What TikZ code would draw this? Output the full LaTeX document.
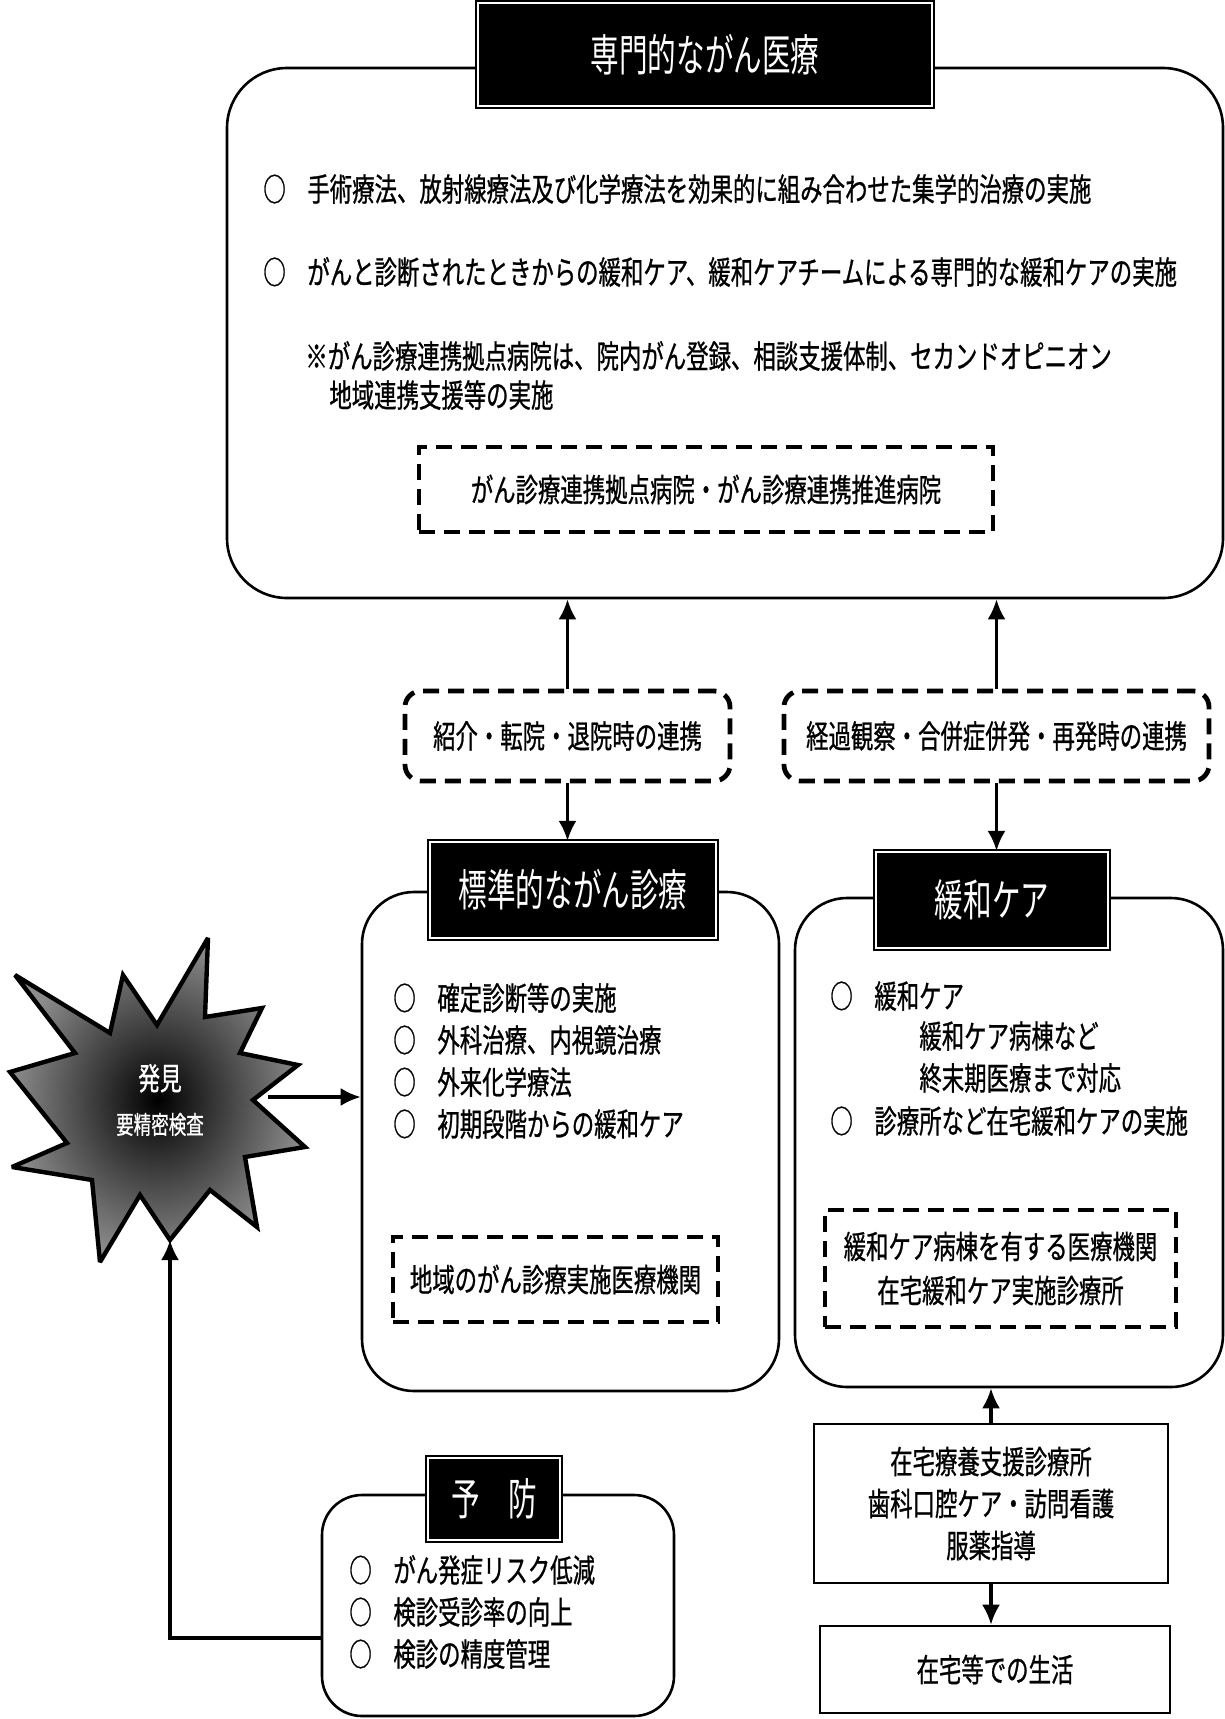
\documentclass[tikz,border=0pt]{standalone}
\usepackage{fontspec}
\usetikzlibrary{arrows.meta}
\newfontfamily\jpfont[FakeStretch=0.70,FakeBold=0.8]{Noto Sans CJK JP}
\newfontfamily\jphead[FakeStretch=0.65]{Noto Sans CJK JP}
\newcommand{\maru}{\makebox[22pt][l]{○}}
\begin{document}
\begin{tikzpicture}[x=0.5pt,y=-0.5pt,
  txt/.style={font=\jpfont\fontsize{16}{20}\selectfont, inner sep=0pt, anchor=west},
  headbox/.style={fill=black, draw=black, double=white, double distance=0.6pt,
    line width=1.1pt, inner sep=0pt, text=white,
    font=\jphead\fontsize{22}{26}\selectfont},
  panel/.style={draw=black, line width=1.3pt, fill=white, inner sep=0pt},
  dashbox/.style={draw=black, line width=2.4pt, dash pattern=on 8pt off 4.5pt,
    inner sep=0pt, font=\jpfont\fontsize{16}{22}\selectfont, align=center},
  plainbox/.style={draw=black, line width=1.3pt, inner sep=0pt,
    font=\jpfont\fontsize{16}{21}\selectfont, align=center},
  link/.style={line width=1.6pt, -{Latex[length=10pt,width=9pt]}},
]
\useasboundingbox (0,0) rectangle (1225,1719);
\fill[white] (0,0) rectangle (1225,1719);

% ---------- specialised cancer care ----------
\node[panel, rounded corners=30pt, minimum width=498pt, minimum height=265pt]
  (big) at (725,333) {};
\node[headbox, minimum width=227pt, minimum height=51.5pt]
  (head1) at (705,54.5) {専門的ながん医療};
\node[txt] (b1) at (263,189) {\maru 手術療法、放射線療法及び化学療法を効果的に組み合わせた集学的治療の実施};
\node[txt] (b2) at (263,272) {\maru がんと診断されたときからの緩和ケア、緩和ケアチームによる専門的な緩和ケアの実施};
\node[txt] (b3) at (305,356) {※がん診療連携拠点病院は、院内がん登録、相談支援体制、セカンドオピニオン};
\node[txt] (b4) at (329,395) {地域連携支援等の実施};
\node[dashbox, minimum width=287pt, minimum height=42.5pt]
  (hosp) at (706,489.5) {がん診療連携拠点病院・がん診療連携推進病院};

% ---------- cooperation labels ----------
\node[dashbox, rounded corners=8pt, minimum width=162.5pt, minimum height=45pt]
  (coopA) at (567.5,736) {紹介・転院・退院時の連携};
\node[dashbox, rounded corners=8pt, minimum width=212.5pt, minimum height=45pt]
  (coopB) at (996.5,736) {経過観察・合併症併発・再発時の連携};

% ---------- standard cancer care ----------
\node[panel, rounded corners=26pt, minimum width=208.5pt, minimum height=249.5pt]
  (std) at (570.5,1141.5) {};
\node[headbox, minimum width=143pt, minimum height=48pt]
  (head2) at (573,890) {標準的ながん診療};
\node[txt] (s1) at (393,998) {\maru 確定診断等の実施};
\node[txt] (s2) at (393,1040) {\maru 外科治療、内視鏡治療};
\node[txt] (s3) at (393,1082) {\maru 外来化学療法};
\node[txt] (s4) at (393,1124) {\maru 初期段階からの緩和ケア};
\node[dashbox, minimum width=162.5pt, minimum height=42.5pt]
  (local) at (555.5,1279.5) {地域のがん診療実施医療機関};

% ---------- palliative care ----------
\node[panel, rounded corners=26pt, minimum width=214pt, minimum height=244.5pt]
  (pal) at (1009,1142.5) {};
\node[headbox, minimum width=116pt, minimum height=48pt]
  (head3) at (992,900) {緩和ケア};
\node[txt] (r1) at (830,996) {\maru 緩和ケア};
\node[txt] (r2) at (919,1036) {緩和ケア病棟など};
\node[txt] (r3) at (919,1078) {終末期医療まで対応};
\node[txt] (r4) at (830,1121) {\maru 診療所など在宅緩和ケアの実施};
\node[dashbox, minimum width=175.5pt, minimum height=58.5pt]
  (palhosp) at (1000.5,1268.5) {緩和ケア病棟を有する医療機関\\在宅緩和ケア実施診療所};

% ---------- prevention ----------
\node[panel, rounded corners=20pt, minimum width=176pt, minimum height=110.5pt]
  (prev) at (498,1605.5) {};
\node[headbox, minimum width=66pt, minimum height=41pt]
  (head4) at (494,1499) {予　防};
\node[txt] (p1) at (349,1570) {\maru がん発症リスク低減};
\node[txt] (p2) at (349,1612) {\maru 検診受診率の向上};
\node[txt] (p3) at (349,1654) {\maru 検診の精度管理};

% ---------- home care ----------
\node[plainbox, minimum width=177pt, minimum height=79.5pt]
  (home) at (991,1503.5) {在宅療養支援診療所\\歯科口腔ケア・訪問看護\\服薬指導};
\node[plainbox, minimum width=175pt, minimum height=43.5pt]
  (life) at (995,1669.5) {在宅等での生活};

% ---------- discovery burst ----------
\shade[inner color=black, outer color=black!45, draw=black, line width=2.2pt,
       line join=miter, miter limit=3]
  (15,975) -- (110,1033) -- (123,975) -- (157,1025) -- (208,938) -- (205,1017)
  -- (262,1008) -- (240,1053) -- (298,1065) -- (253,1100) -- (305,1147)
  -- (245,1157) -- (257,1227) -- (210,1190) -- (170,1240) -- (140,1195)
  -- (100,1262) -- (92,1180) -- (12,1167) -- (67,1143) -- (10,1072)
  -- (75,1053) -- cycle;
\coordinate (burstE) at (268,1097);
\coordinate (burstS) at (170,1240);
\node[inner sep=0pt, text=white, align=center, font=\jpfont\fontsize{15.5}{22}\selectfont]
  (found) at (160,1100) {発見\\{\fontsize{12.5}{15}\selectfont 要精密検査}};

% ---------- connectors ----------
\draw[link] (coopA.north) -- (coopA.north |- big.south);
\draw[link] (coopA.south) -- (coopA.south |- head2.north);
\draw[link] (coopB.north) -- (coopB.north |- big.south);
\draw[link] (coopB.south) -- (coopB.south |- head3.north);
\draw[link] (burstE) -- (burstE -| std.west);
\coordinate (bend) at (170,1638);
\draw[link, line join=miter] (bend -| prev.west) -- (bend) -- (burstS);
\draw[link] (home.north) -- (home.north |- pal.south);
\draw[link] (home.south) -- (home.south |- life.north);
\end{tikzpicture}
\end{document}
